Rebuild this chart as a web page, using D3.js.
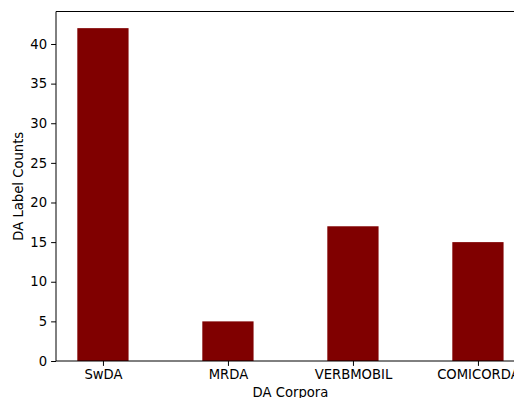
<!DOCTYPE html>
<html>
<head>
<meta charset="utf-8">
<script src="https://cdn.jsdelivr.net/npm/d3@7"></script>
<style>
  body { margin: 0; background: #fff; overflow: hidden; }
  svg { display: block; font-family: "DejaVu Sans", sans-serif; }
</style>
</head>
<body>
<div id="chart"></div>
<script>
// Data
const corpora = ["SwDA", "MRDA", "VERBMOBIL", "COMICORDA"];
const labelCounts = [42, 5, 17, 15];
const yTicks = [0, 5, 10, 15, 20, 25, 30, 35, 40];

const W = 514, H = 398;
const margin = {top: 11.5, left: 56, bottom: 361};
const barWidth = 0.41;
const fontSize = "13.2px";

const svg = d3.select("#chart")
  .append("svg")
  .attr("width", W)
  .attr("height", H);

// Scales (matplotlib-like 5% margins)
const xLo = -barWidth / 2, xHi = corpora.length - 1 + barWidth / 2;
const xPad = (xHi - xLo) * 0.05;
const x = d3.scaleLinear()
  .domain([xLo - xPad, xHi + xPad])
  .range([margin.left, margin.left + (xHi - xLo + 2 * xPad) * 125]);
const y = d3.scaleLinear()
  .domain([0, d3.max(labelCounts) * 1.05])
  .range([margin.bottom, margin.top]);

// Bars
svg.selectAll("rect.bar")
  .data(labelCounts)
  .join("rect")
  .attr("class", "bar")
  .attr("x", (d, i) => x(i - barWidth / 2))
  .attr("width", (d, i) => x(i + barWidth / 2) - x(i - barWidth / 2))
  .attr("y", d => y(d))
  .attr("height", d => y(0) - y(d))
  .attr("fill", "#800000");

// Axes
const xAxis = svg.append("g")
  .attr("transform", `translate(0,${margin.bottom})`)
  .call(d3.axisBottom(x)
    .tickValues(d3.range(corpora.length))
    .tickFormat(i => corpora[i])
    .tickSizeOuter(0)
    .tickSize(4.9)
    .tickPadding(4));
const yAxis = svg.append("g")
  .attr("transform", `translate(${margin.left},0)`)
  .call(d3.axisLeft(y)
    .tickValues(yTicks)
    .tickSizeOuter(0)
    .tickSize(4.9)
    .tickPadding(4));

[xAxis, yAxis].forEach(g => {
  g.selectAll("text")
    .attr("fill", "#000")
    .style("font-size", fontSize)
    .style("font-family", "DejaVu Sans, sans-serif");
  g.selectAll("line").attr("stroke", "#000").attr("stroke-width", 1);
  g.select(".domain").remove();
});

// Spines (left, top, bottom; right one lies outside the window)
const x0 = x.range()[0], x1 = x.range()[1];
svg.append("path")
  .attr("d", `M${x1},${margin.top}H${x0}V${margin.bottom}H${x1}`)
  .attr("fill", "none")
  .attr("stroke", "#000")
  .attr("stroke-width", 1);

// Axis labels
svg.append("text")
  .attr("x", (x0 + x1) / 2)
  .attr("y", 397)
  .attr("text-anchor", "middle")
  .style("font-size", fontSize)
  .text("DA Corpora");

svg.append("text")
  .attr("transform", "rotate(-90)")
  .attr("x", -(margin.top + margin.bottom) / 2)
  .attr("y", 23)
  .attr("text-anchor", "middle")
  .style("font-size", fontSize)
  .text("DA Label Counts");
</script>
</body>
</html>
